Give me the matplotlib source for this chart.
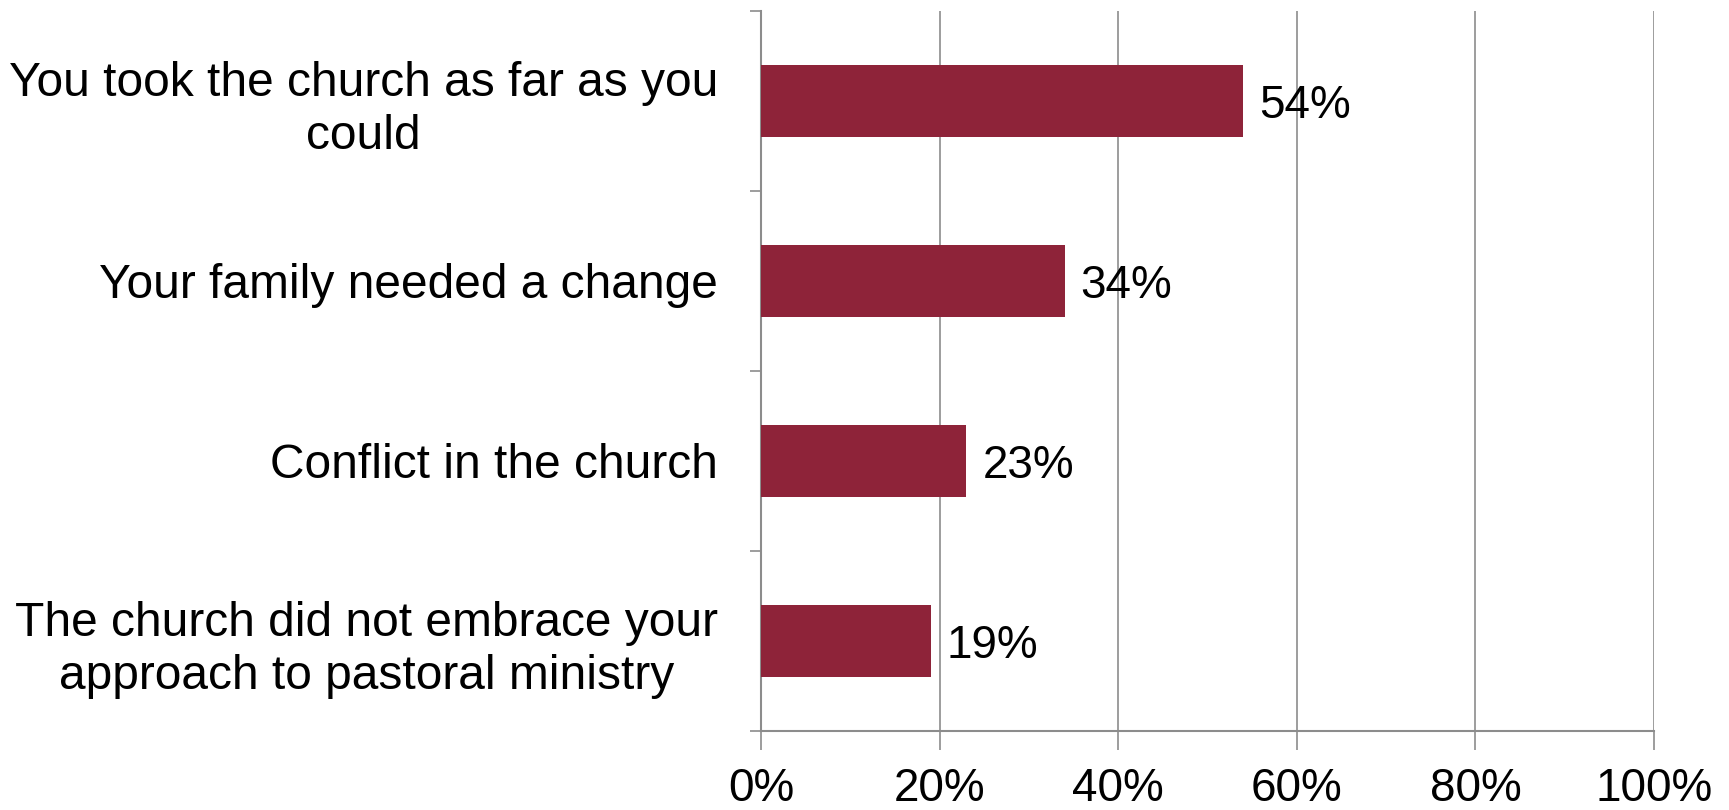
import matplotlib
matplotlib.use("Agg")
import matplotlib.pyplot as plt
import numpy as np
from matplotlib.ticker import FixedLocator, NullFormatter

plt.rcParams['font.family'] = ['Liberation Sans', 'DejaVu Sans']

categories = ["You took the church as far as you\ncould",
              "Your family needed a change",
              "Conflict in the church",
              "The church did not embrace your\napproach to pastoral ministry"]
values = [54, 34, 23, 19]
xticks = [0, 20, 40, 60, 80, 100]
xticklabels = ["0%", "20%", "40%", "60%", "80%", "100%"]

bar_color = "#8E2339"
grid_color = "#8C8C8C"

fig = plt.figure(figsize=(17.29, 8.10), dpi=100)
ax = fig.add_axes([761/1729, 1 - 731/810, (1654-761)/1729, (731-11)/810])

n = len(categories)
pos = np.arange(n)[::-1]
ax.barh(pos, values, height=0.4, color=bar_color, zorder=3)
ax.set_ylim(-0.5, n - 0.5)
ax.set_xlim(0, 100)

for p, v in zip(pos, values):
    ax.text(v + 1.8, p, f"{v}%", va="center_baseline", ha="left", fontsize=33, zorder=4)

ax.set_xticks(xticks)
ax.set_xticklabels(xticklabels, fontsize=33)
ax.tick_params(axis="x", length=14, width=1.2, color=grid_color, pad=12)
ax.xaxis.grid(True, color=grid_color, linewidth=1.2, zorder=0)

ax.set_yticks(pos)
ax.set_yticklabels(categories, fontsize=34.5, ha="right", multialignment="center",
                   linespacing=1.22)
ax.tick_params(axis="y", which="major", length=0, pad=31)
ax.yaxis.set_minor_locator(FixedLocator(np.arange(-0.5, n, 1.0)))
ax.yaxis.set_minor_formatter(NullFormatter())
ax.tick_params(axis="y", which="minor", length=8, width=1.2, color=grid_color)

for s in ["top", "right"]:
    ax.spines[s].set_visible(False)
for s in ["left", "bottom"]:
    ax.spines[s].set_color(grid_color)
    ax.spines[s].set_linewidth(1.5)

fig.savefig("out.png", dpi=100)
